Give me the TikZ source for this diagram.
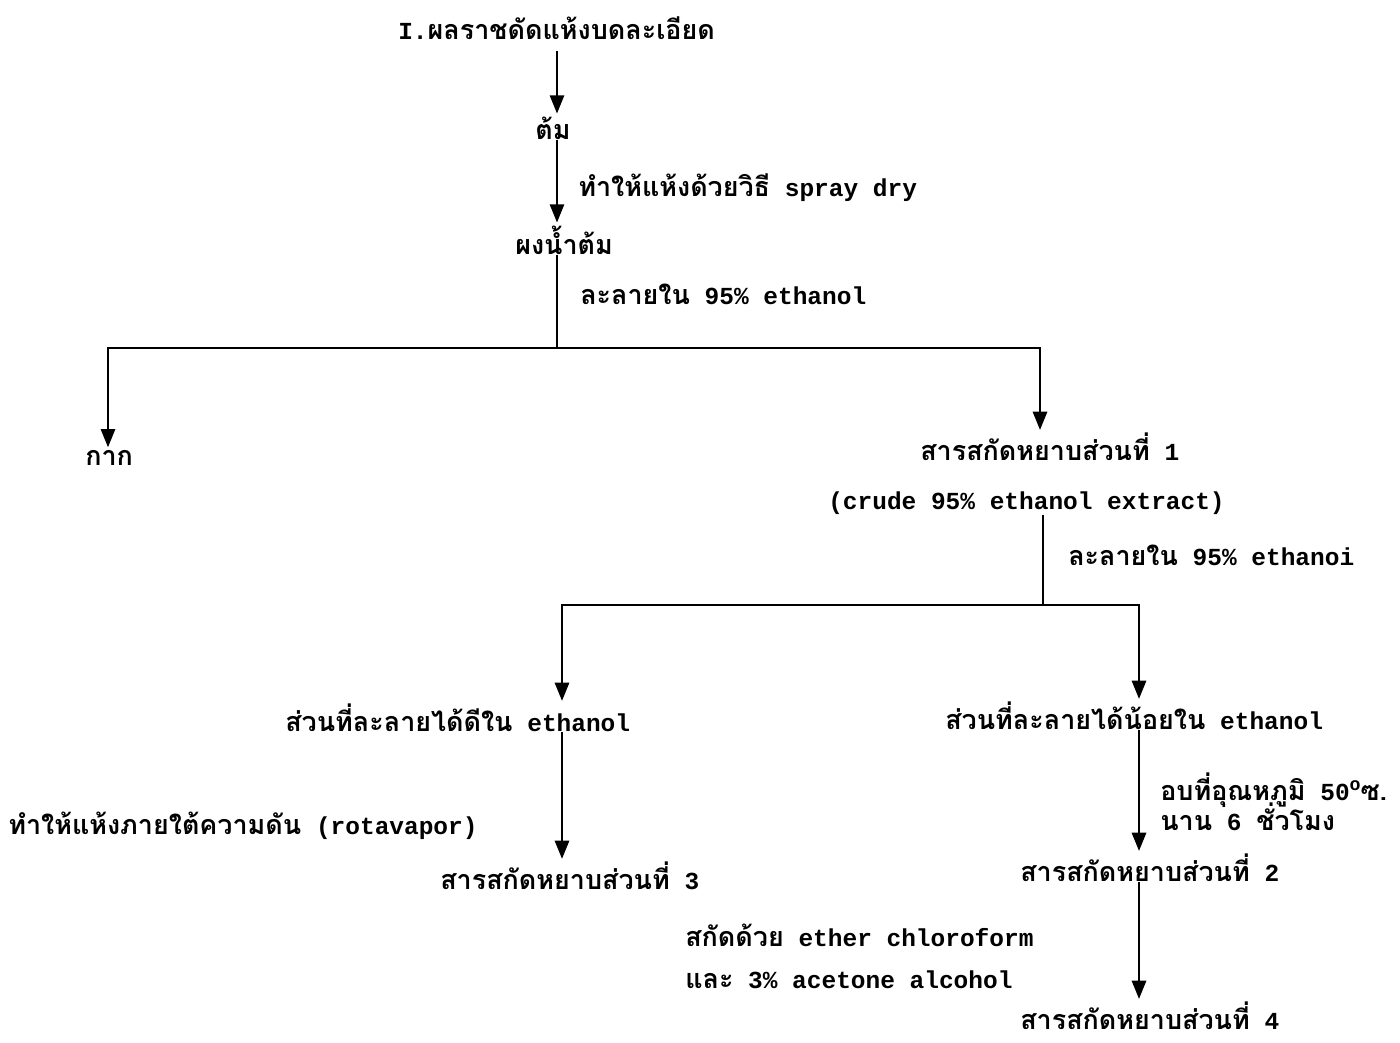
\documentclass[tikz,border=0pt]{standalone}
\usepackage{fontspec}
\setmainfont{Liberation Mono}
\newfontfamily\thaifont[Script=Thai, Scale=1.1]{Loma}
\newcommand{\thaitext}[1]{{\thaifont #1}}
\usepackage{tikz}
\usetikzlibrary{arrows.meta, positioning, calc}

\begin{document}
\begin{tikzpicture}[x=0.025cm, y=-0.025cm,
        font=\fontsize{17.4}{20}\selectfont\bfseries,
        lbl/.style={inner sep=0pt, anchor=west},
        trunk/.style={line width=1.9pt},
        flow/.style={line width=1.9pt, -{Triangle[width=10pt, length=13pt]}, shorten >=2pt}]
        \useasboundingbox (0,0) rectangle (1400,1042);

        % first stage
        \node[lbl] (raw) at (398,28) {I.\thaitext{ผลราชดัดแห้งบดละเอียด}};
        \node[lbl] (tom) at (535,128) {\thaitext{ต้ม}};
        \node[lbl] (spray) at (578,188) {\thaitext{ทำให้แห้งด้วยวิธี} spray dry};
        \node[lbl] (powder) at (515,240) {\thaitext{ผงน้ำต้ม}};
        \node[lbl] (solv1) at (580,294) {\thaitext{ละลายใน} 95\% ethanol};

        \node[lbl] (residue) at (85,458) {\thaitext{กาก}};
        \node[lbl] (ext1) at (920,447) {\thaitext{สารสกัดหยาบส่วนที่} 1};
        \node[lbl] (crude) at (828,503) {(crude 95\% ethanol extract)};
        \node[lbl] (solv2) at (1068,555) {\thaitext{ละลายใน} 95\% ethanoi};

        % second stage
        \node[lbl] (good) at (285,718) {\thaitext{ส่วนที่ละลายได้ดีใน} ethanol};
        \node[lbl] (poor) at (945,716) {\thaitext{ส่วนที่ละลายได้น้อยใน} ethanol};
        \node[lbl] (rota) at (8,826) {\thaitext{ทำให้แห้งภายใต้ความดัน} (rotavapor)};
        \node[lbl] (ext3) at (440,876) {\thaitext{สารสกัดหยาบส่วนที่} 3};
        \node[lbl] (bake) at (1160,790) {\thaitext{อบที่อุณหภูมิ} 50\raisebox{0.8ex}{\fontsize{13}{13}\selectfont o}\thaitext{ซ.}};
        \node[lbl] (hours) at (1160,817) {\thaitext{นาน} 6 \thaitext{ชั่วโมง}};
        \node[lbl] (ext2) at (1020,868) {\thaitext{สารสกัดหยาบส่วนที่} 2};
        \node[lbl] (ether) at (685,935) {\thaitext{สกัดด้วย} ether chloroform};
        \node[lbl] (acet) at (685,980) {\thaitext{และ} 3\% acetone alcohol};
        \node[lbl] (ext4) at (1020,1016) {\thaitext{สารสกัดหยาบส่วนที่} 4};

        % column positions
        \coordinate (ax) at (557,0);
        \coordinate (lx) at (108,0);
        \coordinate (rx) at (1040,0);
        \coordinate (gx) at (562,0);
        \coordinate (px) at (1139,0);
        \coordinate (split1) at (557,348);
        \coordinate (split2) at (1043,605);

        \draw[flow] ([yshift=-8pt]raw.south -| ax) -- (tom.north -| ax);
        \draw[flow] (tom.south -| ax) -- (powder.north -| ax);
        \draw[trunk] (powder.south -| ax) -- (split1);
        \draw[flow] (split1) -| (lx |- residue.north);
        \draw[flow] (split1) -| (rx |- ext1.north);
        \draw[trunk] (crude.south -| split2) -- (split2);
        \draw[flow] (split2) -| (gx |- good.north);
        \draw[flow] (split2) -| (px |- poor.north);
        \draw[flow] (good.south -| gx) -- (gx |- ext3.north);
        \draw[flow] (poor.south -| px) -- (px |- ext2.north);
        \draw[flow] (ext2.south -| px) -- (px |- ext4.north);
\end{tikzpicture}
\end{document}
